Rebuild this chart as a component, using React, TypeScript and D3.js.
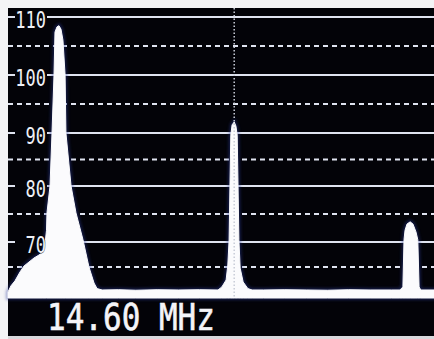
import React from "react";
import * as d3 from "d3";

const W = 434;
const H = 339;

// spectrum trace (frequency in screen units 0..100, level in dB)
const traceFreq = [
  0, 0.7, 1.64, 2.82, 3.76, 4.93, 6.1, 7.28, 8.2, 8.69, 9.04, 9.15, 9.86, 10.33, 10.8, 11.03, 11.5,
  11.97, 12.44, 12.9, 13.4, 13.6, 14.8, 15.96, 17.6, 19.0, 20.2, 20.9, 22.1, 26, 30, 35, 40, 45, 49.3,
  50.2, 51.2, 51.6, 51.9, 52.1, 52.3, 52.6, 53.1, 53.5, 53.8, 54.0, 54.2, 54.5, 55.2, 56.3, 57.3,
  60, 65, 70, 75, 80, 85, 90, 92.0, 92.7, 92.96, 93.2, 93.66, 94.4, 95.07, 95.77, 96.2, 96.5, 96.9, 100,
];
const traceLevel = [
  60.5, 61.6, 62.5, 64.1, 65.2, 66.0, 66.8, 67.4, 68.0, 69.6, 72.1, 75.2, 80, 90, 100, 107.4, 108.3,
  108.5, 107.9, 106, 100, 90, 80, 75.2, 70.4, 65, 62.1, 61.1, 60.85, 60.9, 60.8, 60.9, 60.85, 60.9, 60.85,
  61.4, 62.65, 65.4, 70.36, 80, 89.6, 91.4, 91.9, 91.2, 89.6, 80, 70.4, 64.8, 62.3, 61.1, 60.85,
  60.85, 60.9, 60.85, 60.8, 60.9, 60.85, 60.85, 60.85, 61.4, 70.4, 72.1, 73.2, 73.6, 73.2, 71.8, 70.4, 61.4, 60.85, 60.85,
];

const solidLevels = [110, 100, 90, 80, 70];
const dashedLevels = [105, 95, 85, 75, 65];
const markerFreq = 53.1;
const readout = "14.60 MHz";

// screen of a photographed analyser: slightly uneven graticule
const yScale = d3
  .scaleLinear()
  .domain([59.4, 65, 70, 80, 90, 100, 110])
  .range([298, 267, 242, 186, 133, 75, 17]);
const xScale = d3.scaleLinear().domain([0, 100]).range([8, 434]);

export default function App() {
  const pts = traceFreq.map((f, i) => [f, traceLevel[i]] as [number, number]);
  const area = d3
    .area<[number, number]>()
    .x((d) => xScale(d[0]))
    .y0(yScale(59.4))
    .y1((d) => yScale(d[1]));
  const pathD = area(pts) || "";
  const gridColor = "#dfe3ef";
  const mx = xScale(markerFreq);

  return (
    <svg
      width={W}
      height={H}
      style={{ position: "absolute", left: 0, top: 0, display: "block" }}
    >
      <defs>
        <filter id="glow" x="-20%" y="-20%" width="140%" height="140%">
          <feGaussianBlur stdDeviation="1.5" />
        </filter>
      </defs>
      <rect x={0} y={0} width={W} height={H} fill="#f4f4f6" />
      <rect x={8} y={8} width={W - 8} height={328} fill="#030308" />

      {/* dashed graticule */}
      {dashedLevels.map((v) => (
        <line
          key={"d" + v}
          x1={8}
          x2={W}
          y1={yScale(v)}
          y2={yScale(v)}
          stroke={gridColor}
          strokeWidth={2}
          strokeDasharray="5 4"
        />
      ))}
      {/* solid graticule */}
      {solidLevels.map((v) => (
        <g key={"s" + v}>
          <line x1={8} x2={15} y1={yScale(v)} y2={yScale(v)} stroke={gridColor} strokeWidth={2} />
          <line x1={47} x2={W} y1={yScale(v)} y2={yScale(v)} stroke={gridColor} strokeWidth={2} />
        </g>
      ))}

      {/* trace glow + trace */}
      <path d={pathD} fill="none" stroke="#2a3a9a" strokeWidth={4} opacity={0.45} filter="url(#glow)" />
      <path d={pathD} fill="#fbfbfd" stroke="#fbfbfd" strokeWidth={1} />

      {/* level labels */}
      {solidLevels.map((v) => (
        <text
          key={"t" + v}
          x={0}
          y={0}
          transform={`translate(46,${yScale(v) + 3}) scale(1,1.35)`}
          textAnchor="end"
          dominantBaseline="central"
          fill="#eef0f6"
          stroke="#030308"
          strokeWidth={0.6}
          paintOrder="stroke"
          fontFamily="DejaVu Sans Mono"
          fontSize={17}
        >
          {v}
        </text>
      ))}

      {/* marker */}
      <line
        x1={mx}
        x2={mx}
        y1={8}
        y2={298}
        stroke="#c8ccd8"
        strokeWidth={1.5}
        strokeDasharray="1.5 2"
      />

      {/* readout */}
      <text
        x={0}
        y={0}
        transform="translate(47,330) scale(1,1.2)"
        fill="#f4f4f8"
        stroke="#f4f4f8"
        strokeWidth={0.5}
        fontFamily="DejaVu Sans Mono"
        fontSize={31}
      >
        {readout}
      </text>
      <rect x={8} y={336} width={W - 8} height={3} fill="#d8d8dc" />
    </svg>
  );
}
